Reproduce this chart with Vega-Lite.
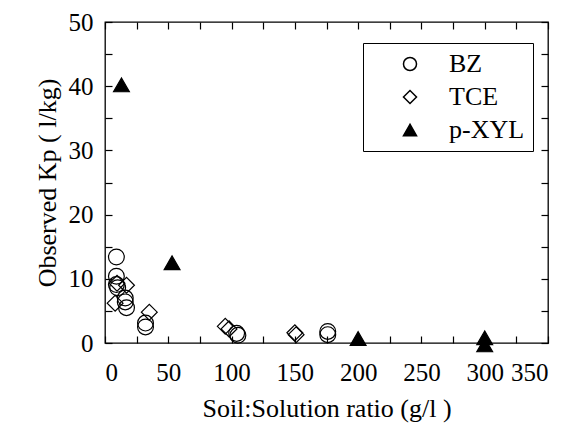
{
  "$schema": "https://vega.github.io/schema/vega-lite/v6.json",
  "autosize": "none",
  "width": 443,
  "height": 321,
  "padding": {"left": 105, "top": 22, "right": 24, "bottom": 91},
  "background": "white",
  "config": {
    "view": {"stroke": "black", "strokeWidth": 1.3},
    "axis": {
      "domain": false,
      "grid": false,
      "tickColor": "black",
      "tickSize": -7,
      "tickWidth": 1.2
    }
  },
  "data": {
    "values": [
      {"ratio": 9, "kp": 13.4, "compound": "BZ"},
      {"ratio": 9, "kp": 10.4, "compound": "BZ"},
      {"ratio": 9, "kp": 9.1, "compound": "BZ"},
      {"ratio": 10, "kp": 8.6, "compound": "BZ"},
      {"ratio": 16, "kp": 7.0, "compound": "BZ"},
      {"ratio": 16, "kp": 6.4, "compound": "BZ"},
      {"ratio": 17, "kp": 5.5, "compound": "BZ"},
      {"ratio": 32, "kp": 3.1, "compound": "BZ"},
      {"ratio": 32, "kp": 2.5, "compound": "BZ"},
      {"ratio": 104, "kp": 1.5, "compound": "BZ"},
      {"ratio": 105, "kp": 1.2, "compound": "BZ"},
      {"ratio": 176, "kp": 1.8, "compound": "BZ"},
      {"ratio": 176, "kp": 1.3, "compound": "BZ"},
      {"ratio": 9.5, "kp": 9.3, "compound": "TCE"},
      {"ratio": 17, "kp": 9.0, "compound": "TCE"},
      {"ratio": 8, "kp": 6.2, "compound": "TCE"},
      {"ratio": 35, "kp": 4.8, "compound": "TCE"},
      {"ratio": 95, "kp": 2.6, "compound": "TCE"},
      {"ratio": 98, "kp": 2.2, "compound": "TCE"},
      {"ratio": 150, "kp": 1.6, "compound": "TCE"},
      {"ratio": 151, "kp": 1.3, "compound": "TCE"},
      {"ratio": 13, "kp": 40.2, "compound": "p-XYL"},
      {"ratio": 53, "kp": 12.5, "compound": "p-XYL"},
      {"ratio": 200, "kp": 0.7, "compound": "p-XYL"},
      {"ratio": 300, "kp": 0.8, "compound": "p-XYL"},
      {"ratio": 300, "kp": -0.3, "compound": "p-XYL"}
    ]
  },
  "layer": [
    {
      "mark": {"type": "point", "filled": true, "stroke": "black", "strokeWidth": 1.2, "size": 250, "opacity": 1},
      "encoding": {
        "x": {
          "field": "ratio", "type": "quantitative",
          "scale": {"domain": [0, 350], "nice": false, "zero": false},
          "axis": {
            "orient": "bottom",
            "values": [0, 25, 50, 75, 100, 125, 150, 175, 200, 225, 250, 275, 300, 325, 350],
            "labelExpr": "datum.value % 50 === 0 ? datum.label : ''",
            "labelPadding": 24,
            "labelFont": "Times New Roman",
            "labelFontSize": 25,
            "labelColor": "black",
            "title": "Soil:Solution ratio (g/l )",
            "titleFont": "Times New Roman",
            "titleFontSize": 26,
            "titleFontWeight": "normal",
            "titleColor": "black",
            "titlePadding": 10
          }
        },
        "y": {
          "field": "kp", "type": "quantitative",
          "scale": {"domain": [0, 50], "nice": false, "zero": false},
          "axis": {
            "orient": "left",
            "values": [0, 5, 10, 15, 20, 25, 30, 35, 40, 45, 50],
            "labelExpr": "datum.value % 10 === 0 ? datum.label : ''",
            "labelPadding": 19,
            "labelFont": "Times New Roman",
            "labelFontSize": 25,
            "labelColor": "black",
            "title": "Observed Kp ( l/kg)",
            "titleFont": "Times New Roman",
            "titleFontSize": 26,
            "titleFontWeight": "normal",
            "titleColor": "black",
            "titlePadding": 8
          }
        },
        "shape": {
          "field": "compound", "type": "nominal",
          "scale": {"domain": ["BZ", "TCE", "p-XYL"], "range": ["circle", "diamond", "triangle-up"]},
          "legend": {
            "title": null,
            "orient": "none",
            "legendX": 258,
            "legendY": 21,
            "strokeColor": "black",
            "fillColor": "white",
            "padding": 8,
            "symbolOffset": 26,
            "rowPadding": 7,
            "labelFont": "Times New Roman",
            "labelFontSize": 26,
            "labelColor": "black",
            "labelOffset": 26,
            "symbolSize": 170,
            "encode": {"symbols": {"update": {"stroke": {"value": "black"}, "strokeWidth": {"value": 1.2}}}}
          }
        },
        "fill": {
          "field": "compound", "type": "nominal",
          "scale": {"domain": ["BZ", "TCE", "p-XYL"], "range": ["transparent", "transparent", "black"]},
          "legend": {
            "title": null,
            "orient": "none",
            "legendX": 258,
            "legendY": 21,
            "strokeColor": "black",
            "fillColor": "white",
            "padding": 8,
            "symbolOffset": 26,
            "rowPadding": 7,
            "labelFont": "Times New Roman",
            "labelFontSize": 26,
            "labelColor": "black",
            "labelOffset": 26,
            "symbolSize": 170,
            "encode": {"symbols": {"update": {"stroke": {"value": "black"}, "strokeWidth": {"value": 1.2}}}}
          }
        }
      }
    },
    {
      "mark": {"type": "point", "opacity": 0},
      "encoding": {
        "x": {
          "field": "ratio", "type": "quantitative",
          "axis": {
            "orient": "top",
            "values": [0, 25, 50, 75, 100, 125, 150, 175, 200, 225, 250, 275, 300, 325, 350],
            "labels": false,
            "title": null
          }
        },
        "y": {
          "field": "kp", "type": "quantitative",
          "axis": {
            "orient": "right",
            "values": [0, 5, 10, 15, 20, 25, 30, 35, 40, 45, 50],
            "labels": false,
            "title": null
          }
        }
      }
    }
  ],
  "resolve": {"axis": {"x": "independent", "y": "independent"}}
}
